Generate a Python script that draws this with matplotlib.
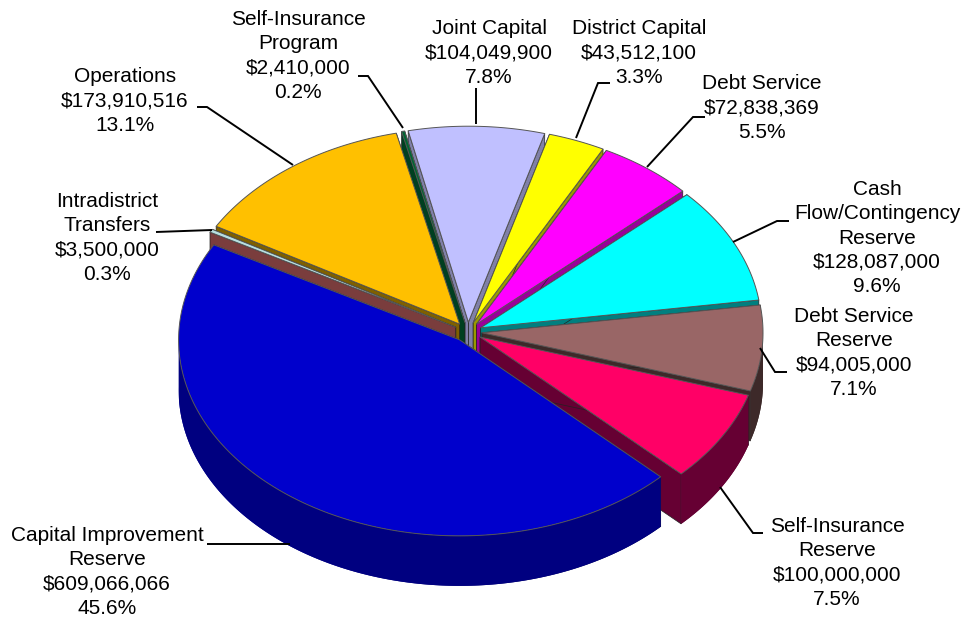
import numpy as np
import matplotlib
matplotlib.use('Agg')
import matplotlib.pyplot as plt
from matplotlib.patches import Polygon
from matplotlib.colors import to_rgb

names = ['Capital Improvement\nReserve', 'Self-Insurance\nReserve', 'Debt Service\nReserve',
         'Cash\nFlow/Contingency\nReserve', 'Debt Service', 'District Capital', 'Joint Capital',
         'Self-Insurance\nProgram', 'Operations', 'Intradistrict\nTransfers']
values = [609066066, 100000000, 94005000, 128087000, 72838369, 43512100, 104049900,
          2410000, 173910516, 3500000]
percents = [45.6, 7.5, 7.1, 9.6, 5.5, 3.3, 7.8, 0.2, 13.1, 0.3]

top_colors = ['#0000CC', '#FF0066', '#996666', '#00FFFF', '#FF00FF', '#FFFF00', '#C0C0FF',
              '#006633', '#FFC000', '#B8E0E0']
side_colors = ['#000080', '#660033', '#3D2929', '#007F7F', '#990099', '#999900', '#8080A8',
               '#003F20', '#7F6000', '#7A3D3D']

# label centre (px) and leader line for every slice
label_pos = [(107, 572), (837, 563), (854, 353), (877, 238), (762, 108), (639, 53), (489, 53),
             (298, 56), (125, 101), (107, 238)]
leaders = [[(207, 544), (290, 544)],
           [(720, 487), (753, 533), (763, 533)],
           [(760, 348), (775, 372), (787, 372)],
           [(733, 242), (777, 221), (789, 221)],
           [(647, 167), (693, 117), (705, 117)],
           [(576, 138), (598, 83), (610, 83)],
           [(476, 124), (476, 88)],
           [(403, 128), (368, 76), (358, 76)],
           [(293, 165), (207, 107), (197, 107)],
           [(212, 230), (156, 232)]]

CX, CY = 468, 332
A, B = 281, 196
THICK = 50
EXPLODE = 0.05
START = 151


def pt(theta, r=1.0, off=(0, 0)):
    return CX + off[0] + A * r * np.cos(theta), CY + off[1] - B * r * np.sin(theta)


fig = plt.figure(figsize=(9.64, 6.18), dpi=100)
ax = fig.add_axes([0, 0, 1, 1])
ax.axis('off')

fracs = np.array(values) / np.sum(values)
edges = np.radians(START + 360 * np.concatenate([[0], np.cumsum(fracs)]))
mids = (edges[:-1] + edges[1:]) / 2

for i in np.argsort(-np.sin(mids)):
    t0, t1 = edges[i], edges[i + 1]
    off = (EXPLODE * A * np.cos(mids[i]), -EXPLODE * B * np.sin(mids[i]))
    tip = (CX + off[0], CY + off[1])
    ang = np.linspace(t0, t1, max(int((t1 - t0) * 80), 4))
    x, y = pt(ang, off=off)

    # flat walls
    for a, b in [((x[0], y[0]), tip), ((x[-1], y[-1]), tip)]:
        wall = [a, b, (b[0], b[1] + THICK), (a[0], a[1] + THICK)]
        ax.add_patch(Polygon(wall, fc=side_colors[i], ec='#222222', lw=0.5))

    # curved wall, gradient image clipped to the wall shape
    front = np.sin(ang) <= 0.02
    if front.sum() > 1:
        fx, fy = x[front], y[front]
        outline = np.vstack([np.column_stack([fx, fy]), np.column_stack([fx, fy + THICK])[::-1]])
        patch = Polygon(outline, fc=side_colors[i], ec='none')
        ax.add_patch(patch)
        cols = np.linspace(fx.min(), fx.max(), 200)
        theta = -np.arccos(np.clip((cols - CX - off[0]) / A, -1, 1))
        floor = 0.6 if i == 0 else 0.9
        shade = floor + 0.7 * np.maximum(0, np.cos(theta - np.radians(205)))
        grad = np.clip(np.array(to_rgb(side_colors[i])) * shade[None, :, None], 0, 1)
        im = ax.imshow(grad, extent=(fx.min(), fx.max(), fy.max() + THICK, fy.min()),
                       aspect='auto', interpolation='bilinear')
        im.set_clip_path(patch)

    # top
    ax.add_patch(Polygon(np.vstack([[tip], np.column_stack([x, y])]), fc=top_colors[i],
                         ec='#555555', lw=0.7, joinstyle='round'))

for i in range(len(names)):
    txt = f"{names[i]}\n${values[i]:,}\n{percents[i]}%"
    ax.text(label_pos[i][0], label_pos[i][1], txt, ha='center', va='center', ma='center',
            family='Liberation Sans', fontsize=15, linespacing=1.34, color='black')
    xs, ys = zip(*leaders[i])
    ax.plot(xs, ys, color='black', lw=1.4, solid_capstyle='butt', solid_joinstyle='miter')

ax.set_xlim(0, 964)
ax.set_ylim(618, 0)
fig.savefig('out.png', dpi=100, facecolor='white')
